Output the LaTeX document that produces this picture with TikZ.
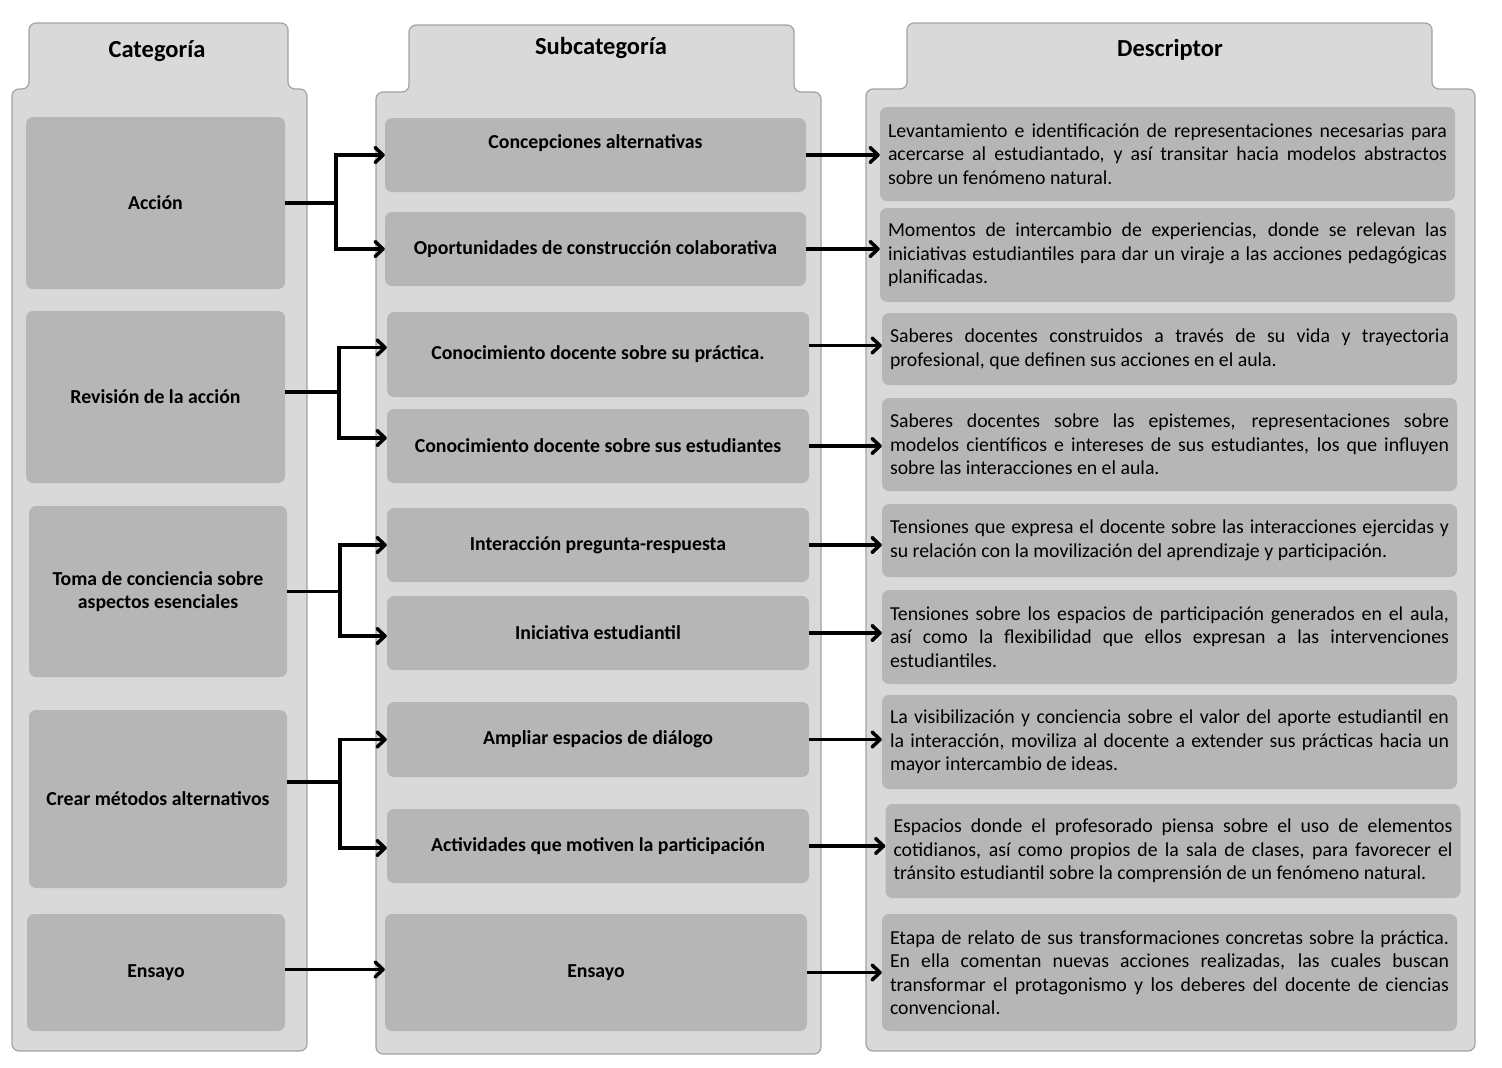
\documentclass[tikz,border=0pt]{standalone}
\usepackage{fontspec}
\setmainfont{Carlito}
\usetikzlibrary{arrows.meta,calc}
\definecolor{panelfill}{HTML}{D9D9D9}
\definecolor{boxfill}{HTML}{B6B6B6}
\definecolor{panelline}{HTML}{A3A3A3}
\begin{document}
\begin{tikzpicture}[x=1pt,y=-1pt,
  panel/.style={fill=panelfill,draw=panelline,line width=1.2pt,rounded corners=7pt},
  labbox/.style={fill=boxfill,rounded corners=7pt,inner sep=0pt,align=center,
    font=\fontsize{19.8}{23.5}\selectfont\bfseries},
  descbox/.style={fill=boxfill,rounded corners=7pt,inner sep=0pt,text width=559pt,
    align=justify,minimum width=575pt,font=\fontsize{19.8}{23.5}\selectfont},
  heading/.style={font=\fontsize{24.5}{28}\selectfont\bfseries},
  arr/.style={line width=3.5pt,-{Straight Barb[length=8pt,width=15pt,round]}},
]
\useasboundingbox (0,0) rectangle (1502,1068);
\fill[white] (0,0) rectangle (1502,1068);

% panels
\draw[panel] (12,1051) -- (12,89) -- (29,89) -- (29,23) -- (288,23) -- (288,89) -- (307,89) -- (307,1051) -- cycle;
\draw[panel] (376,1054) -- (376,92) -- (409,92) -- (409,25) -- (794,25) -- (794,92) -- (821,92) -- (821,1054) -- cycle;
\draw[panel] (866,1051) -- (866,89) -- (907,89) -- (907,23) -- (1432,23) -- (1432,89) -- (1475,89) -- (1475,1051) -- cycle;

\node[heading] (h1) at (157,51) {Categoría};
\node[heading] (h2) at (601,48) {Subcategoría};
\node[heading] (h3) at (1170,50) {Descriptor};

% categories
\node[labbox,minimum width=259pt,minimum height=172pt] (cat1) at (155.5,203) {Acción};
\node[labbox,minimum width=259pt,minimum height=172pt] (cat2) at (155.5,397) {Revisión de la acción};
\node[labbox,minimum width=258pt,minimum height=171pt] (cat3) at (158,591.5) {Toma de conciencia sobre\\aspectos esenciales};
\node[labbox,minimum width=258pt,minimum height=178pt] (cat4) at (158,799) {Crear métodos alternativos};
\node[labbox,minimum width=258pt,minimum height=117pt] (cat5) at (156,972.5) {Ensayo};

% subcategories
\node[labbox,minimum width=421pt,minimum height=74pt] (sub1) at (595.5,155) {Concepciones alternativas\\[3pt]\mbox{}};
\node[labbox,minimum width=421pt,minimum height=74pt] (sub2) at (595.5,249) {Oportunidades de construcción colaborativa};
\node[labbox,minimum width=422pt,minimum height=85pt] (sub3) at (598,354.5) {Conocimiento docente sobre su práctica.};
\node[labbox,minimum width=422pt,minimum height=74pt] (sub4) at (598,446) {Conocimiento docente sobre sus estudiantes};
\node[labbox,minimum width=422pt,minimum height=74pt] (sub5) at (598,545) {Interacción pregunta-respuesta};
\node[labbox,minimum width=422pt,minimum height=74pt] (sub6) at (598,633) {Iniciativa estudiantil};
\node[labbox,minimum width=422pt,minimum height=75pt] (sub7) at (598,739.5) {Ampliar espacios de diálogo};
\node[labbox,minimum width=422pt,minimum height=74pt] (sub8) at (598,846) {Actividades que motiven la participación};
\node[labbox,minimum width=422pt,minimum height=117pt] (sub9) at (596,972.5) {Ensayo};

% descriptors
\node[descbox,minimum height=94pt] (d1) at (1167.5,154) {Levantamiento e identificación de representaciones necesarias para\linebreak acercarse al estudiantado, y así transitar hacia modelos abstractos\linebreak sobre un fenómeno natural.};
\node[descbox,minimum height=94pt] (d2) at (1167.5,255) {Momentos de intercambio de experiencias, donde se relevan las\linebreak iniciativas estudiantiles para dar un viraje a las acciones pedagógicas\linebreak planificadas.};
\node[descbox,minimum height=72pt] (d3) at (1169.5,349) {Saberes docentes construidos a través de su vida y trayectoria\linebreak profesional, que definen sus acciones en el aula.};
\node[descbox,minimum height=93pt] (d4) at (1169.5,444.5) {Saberes docentes sobre las epistemes, representaciones sobre\linebreak modelos científicos e intereses de sus estudiantes, los que influyen\linebreak sobre las interacciones en el aula.};
\node[descbox,minimum height=73pt] (d5) at (1169.5,540.5) {Tensiones que expresa el docente sobre las interacciones ejercidas y\linebreak su relación con la movilización del aprendizaje y participación.};
\node[descbox,minimum height=94pt] (d6) at (1169.5,637) {Tensiones sobre los espacios de participación generados en el aula,\linebreak así como la flexibilidad que ellos expresan a las intervenciones\linebreak estudiantiles.};
\node[descbox,minimum height=94pt] (d7) at (1169.5,742) {La visibilización y conciencia sobre el valor del aporte estudiantil en\linebreak la interacción, moviliza al docente a extender sus prácticas hacia un\linebreak mayor intercambio de ideas.};
\node[descbox,minimum height=94pt] (d8) at (1173,851) {Espacios donde el profesorado piensa sobre el uso de elementos\linebreak cotidianos, así como propios de la sala de clases, para favorecer el\linebreak tránsito estudiantil sobre la comprensión de un fenómeno natural.};
\node[descbox,minimum height=117pt] (d9) at (1169.5,972.5) {Etapa de relato de sus transformaciones concretas sobre la práctica.\linebreak En ella comentan nuevas acciones realizadas, las cuales buscan\linebreak transformar el protagonismo y los deberes del docente de ciencias\linebreak convencional.};

% category -> subcategory
\draw[arr] (cat1.east) -- ++(51,0) |- (sub1.west);
\draw[arr] (cat1.east) -- ++(51,0) |- (sub2.west);
\draw[arr] ($(cat2.east)+(0,-5)$) -- ++(54,0) |- ($(sub3.west)+(0,-7)$);
\draw[arr] ($(cat2.east)+(0,-5)$) -- ++(54,0) |- ($(sub4.west)+(0,-8)$);
\draw[arr] (cat3.east) -- ++(53,0) |- (sub5.west);
\draw[arr] (cat3.east) -- ++(53,0) |- ($(sub6.west)+(0,3)$);
\draw[arr] ($(cat4.east)+(0,-17)$) -- ++(53,0) |- (sub7.west);
\draw[arr] ($(cat4.east)+(0,-17)$) -- ++(53,0) |- ($(sub8.west)+(0,2)$);
\draw[arr] ($(cat5.east)+(0,-3)$) -- ($(sub9.west)+(0,-3)$);

% subcategory -> descriptor
\coordinate (s3out) at ($(sub3.east)+(0,-9)$);
\draw[arr] (sub1.east) -- (sub1.east -| d1.west);
\draw[arr] (sub2.east) -- (sub2.east -| d2.west);
\draw[arr] (s3out) -- (s3out -| d3.west);
\draw[arr] (sub4.east) -- (sub4.east -| d4.west);
\draw[arr] (sub5.east) -- (sub5.east -| d5.west);
\draw[arr] (sub6.east) -- (sub6.east -| d6.west);
\draw[arr] (sub7.east) -- (sub7.east -| d7.west);
\draw[arr] (sub8.east) -- (sub8.east -| d8.west);
\draw[arr] (sub9.east) -- (sub9.east -| d9.west);
\end{tikzpicture}
\end{document}
